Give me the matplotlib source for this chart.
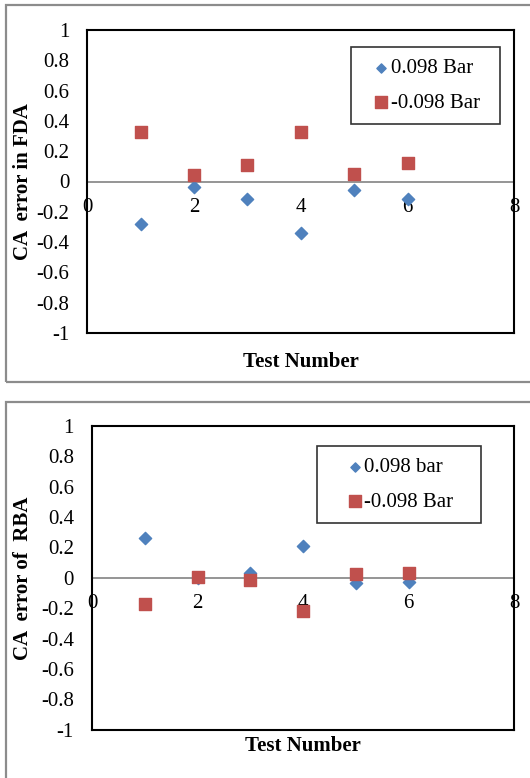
import matplotlib
matplotlib.use('Agg')
import matplotlib.pyplot as plt
from matplotlib.patches import Rectangle

# test numbers
tests = [1, 2, 3, 4, 5, 6]

# FDA errors
fda_pos = [-0.28, -0.037, -0.117, -0.34, -0.053, -0.115]
fda_neg = [0.33, 0.04, 0.11, 0.33, 0.05, 0.12]

# RBA errors
rba_pos = [0.263, -0.005, 0.03, 0.21, -0.037, -0.026]
rba_neg = [-0.173, 0.004, -0.015, -0.217, 0.024, 0.028]

yticks = [1, 0.8, 0.6, 0.4, 0.2, 0, -0.2, -0.4, -0.6, -0.8, -1]
ytick_labels = ['1', '0.8', '0.6', '0.4', '0.2', '0', '-0.2', '-0.4', '-0.6', '-0.8', '-1']
xticks = [0, 2, 4, 6, 8]

blue = '#4F81BD'
red = '#C0504D'

plt.rcParams['font.family'] = ['Liberation Serif', 'DejaVu Serif']
FS = 15

W, H = 530, 778
fig = plt.figure(figsize=(W / 100, H / 100), dpi=100)


def px(x0, y0, x1, y1):
    # pixel box (from top-left) -> figure fraction rect
    return [x0 / W, 1 - y1 / H, (x1 - x0) / W, (y1 - y0) / H]


# outer grey frames
for (x0, y0, x1, y1) in [(6, 4.7, 540, 382), (6, 402, 540, 800)]:
    r = Rectangle((x0 / W, 1 - y1 / H), (x1 - x0) / W, (y1 - y0) / H,
                  transform=fig.transFigure, fill=False, edgecolor='#8c8c8c',
                  linewidth=1.6, zorder=0)
    fig.patches.append(r)


def panel(rect, pos, neg, lab_pos, lab_neg, ylabel, leg_box, hlen, hpad,
          xlab_y, ylab_xy):
    ax = fig.add_axes(rect)
    ax.scatter(tests, pos, marker='D', s=39, color=blue, zorder=3, label=lab_pos)
    ax.scatter(tests, neg, marker='s', s=78, color=red, zorder=3, label=lab_neg)
    ax.set_xlim(0, 8)
    ax.set_ylim(-1, 1)
    ax.set_yticks(yticks)
    ax.set_yticklabels(ytick_labels, fontsize=FS)
    ax.tick_params(axis='y', length=0, pad=13)
    ax.set_xticks([])
    for s in ax.spines.values():
        s.set_color('black')
        s.set_linewidth(1.5)
    # x axis crossing at y=0
    ax.axhline(0, color='#8c8c8c', linewidth=1.3, zorder=2)
    for t in xticks:
        ax.text(t, -0.172, str(t), ha='center', va='center',
                fontsize=FS, zorder=1)
    leg = ax.legend(loc='upper left', bbox_to_anchor=leg_box, mode='expand',
                    frameon=True, fancybox=False, edgecolor='black',
                    handlelength=hlen, handletextpad=hpad, labelspacing=0.73,
                    borderpad=0.55, borderaxespad=0, fontsize=FS,
                    scatterpoints=1)
    leg.get_frame().set_linewidth(1.2)
    leg.legend_handles[0].set_sizes([22])
    leg.legend_handles[1].set_sizes([82])
    fig.text(rect[0] + rect[2] / 2, xlab_y, 'Test Number', ha='center',
             va='center', fontsize=FS, fontweight='bold')
    fig.text(ylab_xy[0], ylab_xy[1], ylabel, ha='center', va='center',
             rotation=90, fontsize=FS, fontweight='bold')
    return ax


panel(px(87.3, 30, 514.3, 333), fda_pos, fda_neg, '0.098 Bar', '-0.098 Bar',
      'CA  error in FDA', (0.6176, 0.9439, 0.349, 0.0), 1.8, -0.43,
      1 - 362 / H, (23.5 / W, 1 - 182 / H))
panel(px(92, 425.7, 514.4, 729.7), rba_pos, rba_neg, '0.098 bar', '-0.098 Bar',
      'CA  error of  RBA', (0.5331, 0.9332, 0.3878, 0.0), 2.52, -0.80,
      1 - 746 / H, (23.5 / W, 1 - 578 / H))

fig.savefig('out.png', dpi=100)
